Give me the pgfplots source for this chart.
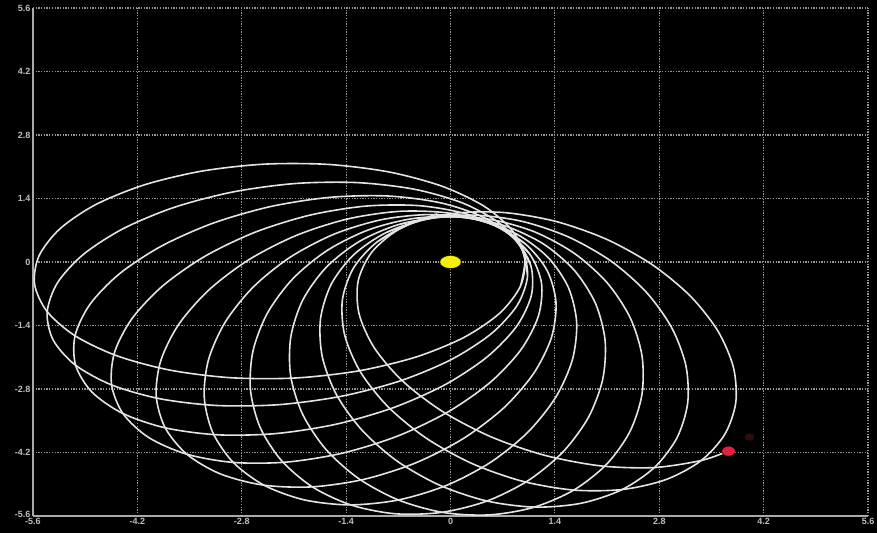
\documentclass[border=0pt]{standalone}
\usepackage{fontspec}
\setmainfont{Liberation Sans}
\usepackage{pgfplots}
\pgfplotsset{compat=1.18}
\definecolor{orbit}{RGB}{228,228,228}
\definecolor{gridc}{RGB}{150,150,150}
\definecolor{framec}{RGB}{170,170,170}
\definecolor{sun}{RGB}{245,238,10}
\definecolor{planet}{RGB}{228,32,62}
\definecolor{ghost}{RGB}{50,12,12}
\definecolor{labelc}{RGB}{190,190,190}
\pgfplotsset{orb/.style={color=orbit, line width=1.6bp, smooth, no markers}}
\begin{document}
\begin{tikzpicture}
\path[use as bounding box, fill=black] (-33bp,-17bp) rectangle (844bp,516bp);
\begin{axis}[
  scale only axis, width=835bp, height=508bp,
  xmin=-5.6, xmax=5.6, ymin=-5.6, ymax=5.6,
  axis x line*=bottom, axis y line*=left,
  axis line style={framec, line width=1.4bp, -},
  xtick={-5.6,-4.2,-2.8,-1.4,0,1.4,2.8,4.2,5.6},
  ytick={-5.6,-4.2,-2.8,-1.4,0,1.4,2.8,4.2,5.6},
  xticklabels={-5.6,-4.2,-2.8,-1.4,0,1.4,2.8,4.2,5.6},
  yticklabels={\raisebox{3.5bp}{-5.6},-4.2,-2.8,-1.4,0,1.4,2.8,4.2,5.6},
  major tick length=0pt,
  grid=major,
  major grid style={gridc, line width=1.2bp, dash pattern=on 1.3bp off 1.4bp},
  tick label style={font=\fontsize{9bp}{10bp}\selectfont\bfseries, text=labelc},
  xticklabel style={yshift=-0.8bp, inner sep=1.5bp},
  yticklabel style={xshift=-1bp, inner sep=1.5bp},
]
% orbit 1
\addplot[orb] coordinates {(0.938,-0.533) (0.996,0.087) (0.831,0.688) (0.453,1.227) (-0.113,1.670) (-0.826,1.985) (-1.640,2.151) (-2.498,2.157) (-3.341,2.002) (-4.114,1.697) (-4.762,1.263) (-5.241,0.729) (-5.520,0.132) (-5.579,-0.488) (-5.413,-1.088) (-5.035,-1.628) (-4.470,-2.071) (-3.756,-2.386) (-2.943,-2.552) (-2.085,-2.558) (-1.241,-2.403) (-0.469,-2.098) (0.179,-1.664) (0.659,-1.130) (0.938,-0.533) (0.996,0.087) (0.831,0.688)};
% orbit 2
\addplot[orb] coordinates {(1.033,-0.310) (0.952,0.307) (0.656,0.856) (0.167,1.297) (-0.482,1.603) (-1.248,1.750) (-2.078,1.731) (-2.916,1.545) (-3.704,1.206) (-4.389,0.736) (-4.924,0.168) (-5.272,-0.459) (-5.410,-1.104) (-5.329,-1.721) (-5.034,-2.270) (-4.545,-2.711) (-3.895,-3.016) (-3.129,-3.164) (-2.299,-3.145) (-1.461,-2.959) (-0.673,-2.620) (0.011,-2.150) (0.546,-1.582) (0.895,-0.954) (1.033,-0.310) (0.952,0.307) (0.656,0.856)};
% orbit 3
\addplot[orb] coordinates {(1.076,-0.072) (0.859,0.512) (0.449,0.981) (-0.127,1.302) (-0.828,1.454) (-1.608,1.427) (-2.412,1.223) (-3.187,0.855) (-3.880,0.348) (-4.442,-0.262) (-4.837,-0.935) (-5.036,-1.625) (-5.027,-2.284) (-4.810,-2.867) (-4.400,-3.336) (-3.825,-3.657) (-3.123,-3.810) (-2.344,-3.783) (-1.539,-3.578) (-0.764,-3.210) (-0.072,-2.704) (0.491,-2.093) (0.886,-1.420) (1.085,-0.731) (1.076,-0.072) (0.859,0.512) (0.449,0.981)};
% orbit 4
\addplot[orb] coordinates {(1.065,0.170) (0.723,0.691) (0.219,1.056) (-0.414,1.241) (-1.132,1.233) (-1.886,1.033) (-2.625,0.654) (-3.298,0.122) (-3.860,-0.527) (-4.272,-1.247) (-4.506,-1.991) (-4.546,-2.708) (-4.391,-3.348) (-4.049,-3.869) (-3.544,-4.234) (-2.912,-4.419) (-2.194,-4.411) (-1.440,-4.211) (-0.701,-3.832) (-0.028,-3.300) (0.534,-2.652) (0.946,-1.931) (1.180,-1.187) (1.221,-0.470) (1.065,0.170) (0.723,0.691) (0.219,1.056)};
% orbit 5
\addplot[orb] coordinates {(1.000,0.404) (0.550,0.835) (-0.023,1.078) (-0.681,1.117) (-1.379,0.949) (-2.069,0.585) (-2.704,0.051) (-3.242,-0.618) (-3.645,-1.375) (-3.885,-2.170) (-3.948,-2.947) (-3.827,-3.655) (-3.532,-4.244) (-3.083,-4.675) (-2.509,-4.919) (-1.852,-4.957) (-1.154,-4.789) (-0.463,-4.426) (0.172,-3.892) (0.710,-3.223) (1.112,-2.465) (1.353,-1.671) (1.415,-0.893) (1.295,-0.186) (1.000,0.404) (0.550,0.835) (-0.023,1.078)};
% orbit 6
\addplot[orb] coordinates {(0.885,0.617) (0.350,0.937) (-0.263,1.046) (-0.913,0.937) (-1.556,0.617) (-2.147,0.109) (-2.647,-0.554) (-3.022,-1.326) (-3.246,-2.154) (-3.303,-2.982) (-3.190,-3.754) (-2.915,-4.417) (-2.496,-4.926) (-1.961,-5.245) (-1.348,-5.355) (-0.698,-5.246) (-0.055,-4.926) (0.536,-4.418) (1.036,-3.755) (1.411,-2.983) (1.635,-2.155) (1.692,-1.327) (1.579,-0.555) (1.304,0.108) (0.885,0.617) (0.350,0.937) (-0.263,1.046)};
% orbit 7
\addplot[orb] coordinates {(0.724,0.799) (0.132,0.991) (-0.490,0.961) (-1.099,0.709) (-1.654,0.254) (-2.117,-0.373) (-2.457,-1.131) (-2.650,-1.967) (-2.683,-2.824) (-2.554,-3.644) (-2.271,-4.371) (-1.855,-4.956) (-1.333,-5.358) (-0.741,-5.551) (-0.119,-5.520) (0.491,-5.269) (1.046,-4.814) (1.509,-4.186) (1.849,-3.429) (2.041,-2.593) (2.074,-1.736) (1.945,-0.915) (1.663,-0.188) (1.247,0.397) (0.724,0.799) (0.132,0.991) (-0.490,0.961)};
% orbit 8
\addplot[orb] coordinates {(0.528,0.940) (-0.092,0.996) (-0.692,0.827) (-1.230,0.446) (-1.669,-0.121) (-1.981,-0.837) (-2.142,-1.651) (-2.144,-2.509) (-1.985,-3.352) (-1.676,-4.122) (-1.238,-4.768) (-0.702,-5.245) (-0.103,-5.521) (0.517,-5.576) (1.117,-5.408) (1.655,-5.027) (2.094,-4.459) (2.405,-3.744) (2.567,-2.929) (2.569,-2.072) (2.410,-1.229) (2.101,-0.458) (1.663,0.188) (1.127,0.665) (0.528,0.940) (-0.092,0.996) (-0.692,0.827)};
% orbit 9
\addplot[orb] coordinates {(0.305,1.034) (-0.312,0.950) (-0.859,0.652) (-1.298,0.160) (-1.600,-0.491) (-1.744,-1.258) (-1.720,-2.088) (-1.530,-2.924) (-1.186,-3.710) (-0.713,-4.393) (-0.142,-4.924) (0.487,-5.269) (1.132,-5.404) (1.749,-5.320) (2.296,-5.022) (2.735,-4.530) (3.037,-3.879) (3.181,-3.112) (3.157,-2.282) (2.966,-1.446) (2.623,-0.660) (2.150,0.023) (1.579,0.554) (0.950,0.900) (0.305,1.034) (-0.312,0.950) (-0.859,0.652)};
% orbit 10
\addplot[orb] coordinates {(0.066,1.076) (-0.517,0.856) (-0.983,0.444) (-1.301,-0.133) (-1.450,-0.836) (-1.419,-1.615) (-1.210,-2.419) (-0.838,-3.192) (-0.328,-3.881) (0.285,-4.441) (0.961,-4.832) (1.651,-5.028) (2.310,-5.015) (2.893,-4.795) (3.359,-4.382) (3.677,-3.805) (3.826,-3.103) (3.795,-2.324) (3.586,-1.520) (3.214,-0.747) (2.704,-0.057) (2.091,0.502) (1.416,0.893) (0.725,1.089) (0.066,1.076) (-0.517,0.856) (-0.983,0.444)};
% orbit 11 (partial, ends at the planet)
\addplot[orb] coordinates {(-0.176,1.064) (-0.695,0.719) (-1.057,0.213) (-1.239,-0.421) (-1.227,-1.138) (-1.023,-1.891) (-0.640,-2.628) (-0.105,-3.298) (0.547,-3.857) (1.270,-4.265) (2.015,-4.495) (2.732,-4.532) (3.371,-4.373) (3.733,-4.163)};
% sun
\addplot[only marks, mark=*, mark size=6.5, mark options={fill=sun, draw=none, xscale=1.65}] coordinates {(0,0)};
% planet glow and planet
\addplot[only marks, mark=*, mark size=4, mark options={fill=ghost, draw=none, xscale=1.3}] coordinates {(4.01,-3.86)};
\addplot[only marks, mark=*, mark size=5, mark options={fill=planet, draw=none, xscale=1.35}] coordinates {(3.73,-4.17)};
\end{axis}
\end{tikzpicture}
\end{document}
